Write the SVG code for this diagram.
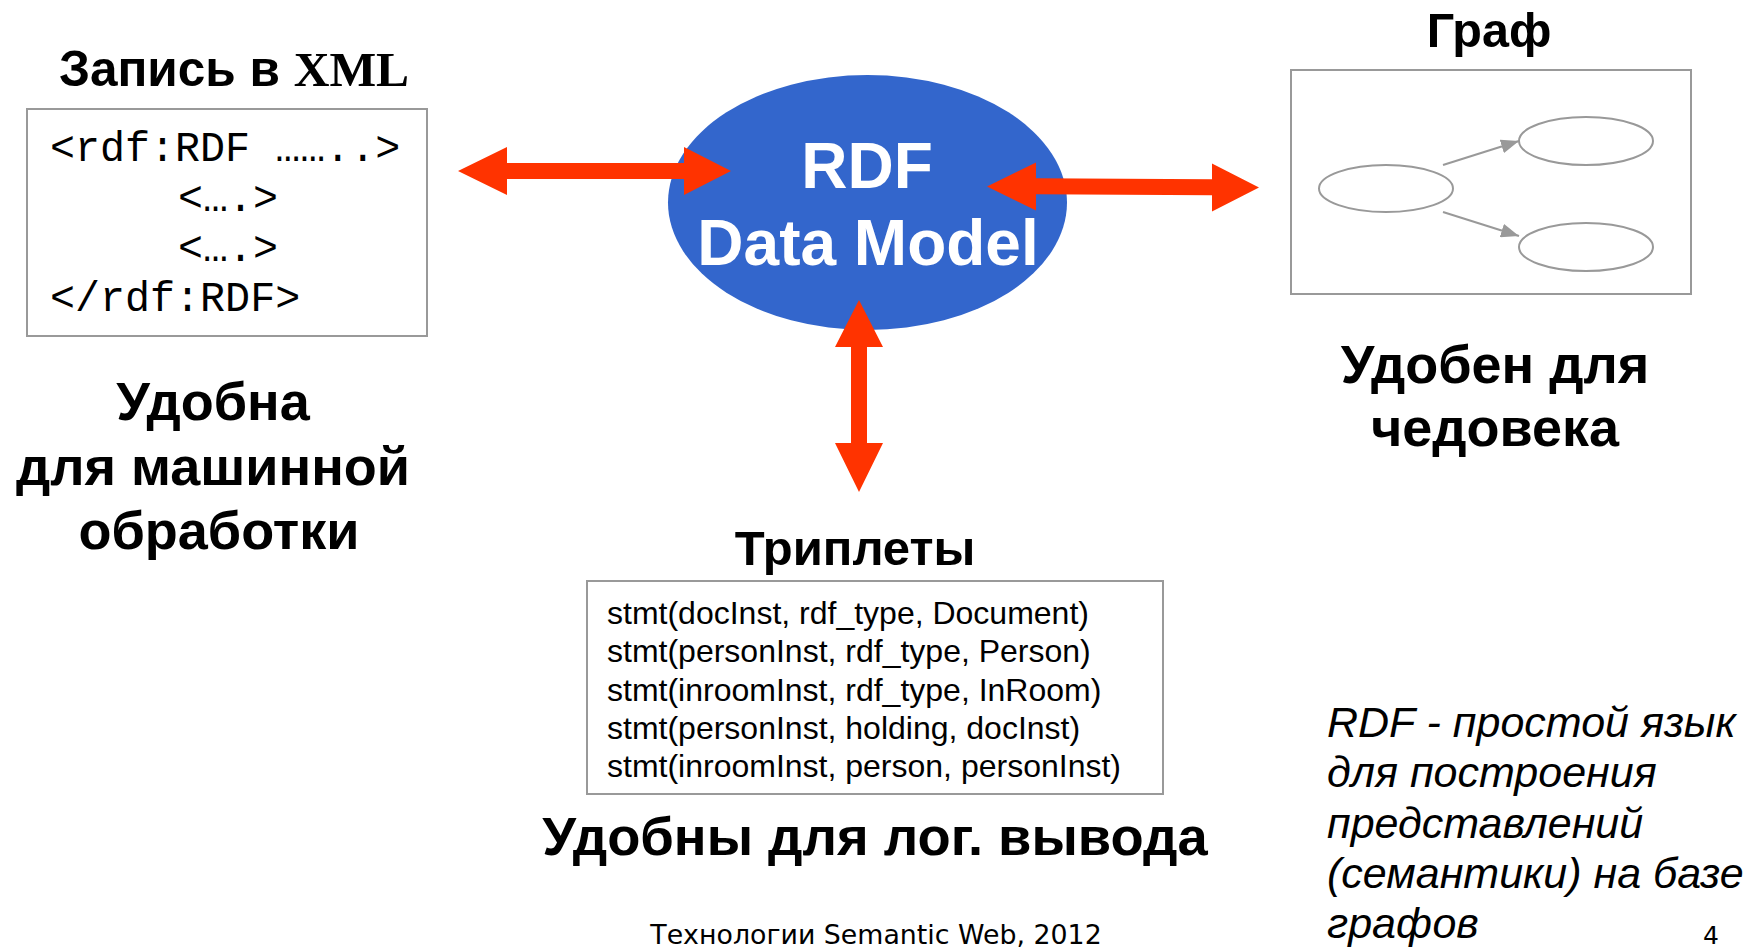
<svg xmlns="http://www.w3.org/2000/svg" width="1749" height="947" viewBox="0 0 1749 947">
<style>
.b{font-family:"Liberation Sans",Arial,sans-serif;font-weight:bold;fill:#000}
.mono{font-family:"Liberation Mono","Courier New",monospace;font-size:41.7px;fill:#000}
.tr{font-family:"Liberation Sans",Arial,sans-serif;font-size:32px;fill:#000}
.box{fill:#fff;stroke:#999;stroke-width:2}
.gel{fill:none;stroke:#999;stroke-width:2}
.red{fill:#ff3300}
</style>
<defs>
<marker id="gah" viewBox="0 0 18 14" refX="18" refY="7" markerWidth="18" markerHeight="14" orient="auto" markerUnits="userSpaceOnUse">
<path d="M0,0 L18,7 L0,14 Z" fill="#999"/>
</marker>
</defs>

<g id="xml">
<text class="b" x="234" y="86" font-size="49.5" text-anchor="middle">Запись в <tspan font-family="Liberation Serif,serif">XML</tspan></text>
<rect class="box" x="27" y="109" width="400" height="227"/>
<text class="mono" x="50" y="161">&lt;rdf:RDF ……..&gt;</text>
<text class="mono" x="178" y="211">&lt;….&gt;</text>
<text class="mono" x="178" y="261">&lt;….&gt;</text>
<text class="mono" x="50" y="311">&lt;/rdf:RDF&gt;</text>
<text class="b" font-size="54" text-anchor="middle"><tspan x="213" y="420">Удобна</tspan><tspan x="213" y="485">для машинной</tspan><tspan x="219" y="549">обработки</tspan></text>
</g>

<g id="rdf">
<ellipse cx="867.5" cy="202.5" rx="199.5" ry="127.5" fill="#3366cc"/>
<text class="b" font-size="64" text-anchor="middle" style="fill:#fff"><tspan x="867" y="188">RDF</tspan><tspan x="868" y="265">Data Model</tspan></text>
</g>

<g id="graph">
<text class="b" x="1489" y="47" font-size="48.5" text-anchor="middle">Граф</text>
<rect class="box" x="1291" y="70" width="400" height="224"/>
<ellipse class="gel" cx="1386" cy="188.5" rx="67" ry="23.5"/>
<ellipse class="gel" cx="1586" cy="141" rx="67" ry="24"/>
<ellipse class="gel" cx="1586" cy="247" rx="67" ry="24"/>
<line x1="1443" y1="165" x2="1519" y2="141" stroke="#999" stroke-width="2" marker-end="url(#gah)"/>
<line x1="1443" y1="212" x2="1519" y2="236" stroke="#999" stroke-width="2" marker-end="url(#gah)"/>
<text class="b" font-size="54" text-anchor="middle"><tspan x="1495" y="383">Удобен для</tspan><tspan x="1495" y="446">чедовека</tspan></text>
</g>

<g id="triples">
<text class="b" x="855" y="565" font-size="49" text-anchor="middle">Триплеты</text>
<rect class="box" x="587" y="581" width="576" height="213"/>
<text class="tr"><tspan x="607" y="624">stmt(docInst, rdf_type, Document)</tspan><tspan x="607" y="662">stmt(personInst, rdf_type, Person)</tspan><tspan x="607" y="701">stmt(inroomInst, rdf_type, InRoom)</tspan><tspan x="607" y="739">stmt(personInst, holding, docInst)</tspan><tspan x="607" y="777">stmt(inroomInst, person, personInst)</tspan></text>
<text class="b" x="875" y="855" font-size="54.3" text-anchor="middle">Удобны для лог. вывода</text>
</g>

<g id="note">
<text font-family="Liberation Sans,Arial,sans-serif" font-style="italic" font-size="43" fill="#000"><tspan x="1327" y="737">RDF - простой язык</tspan><tspan x="1327" y="787">для построения</tspan><tspan x="1327" y="838">представлений</tspan><tspan x="1327" y="888">(семантики) на базе</tspan><tspan x="1327" y="938">графов</tspan></text>
</g>

<g id="footer">
<text font-family="DejaVu Sans,Verdana,sans-serif" font-size="26.8" x="876" y="944" text-anchor="middle" fill="#000">Технологии Semantic Web, 2012</text>
<text font-family="DejaVu Sans,Verdana,sans-serif" font-size="25" x="1711" y="944" text-anchor="middle" fill="#000">4</text>
</g>

<g id="connectors">
<polygon class="red" points="458,171 507,147 507,163 684,163 684,147 731,171 684,195 684,179 507,179 507,195"/>
<polygon class="red" points="987,186.5 1036,162.5 1036,178.3 1212,179.3 1212,163.5 1259,187.5 1212,211.5 1212,195.3 1036,194.3 1036,210.5"/>
<polygon class="red" points="859,300 883,347 867,347 867,443 883,443 859,492 835,443 851,443 851,347 835,347"/>
</g>
</svg>
